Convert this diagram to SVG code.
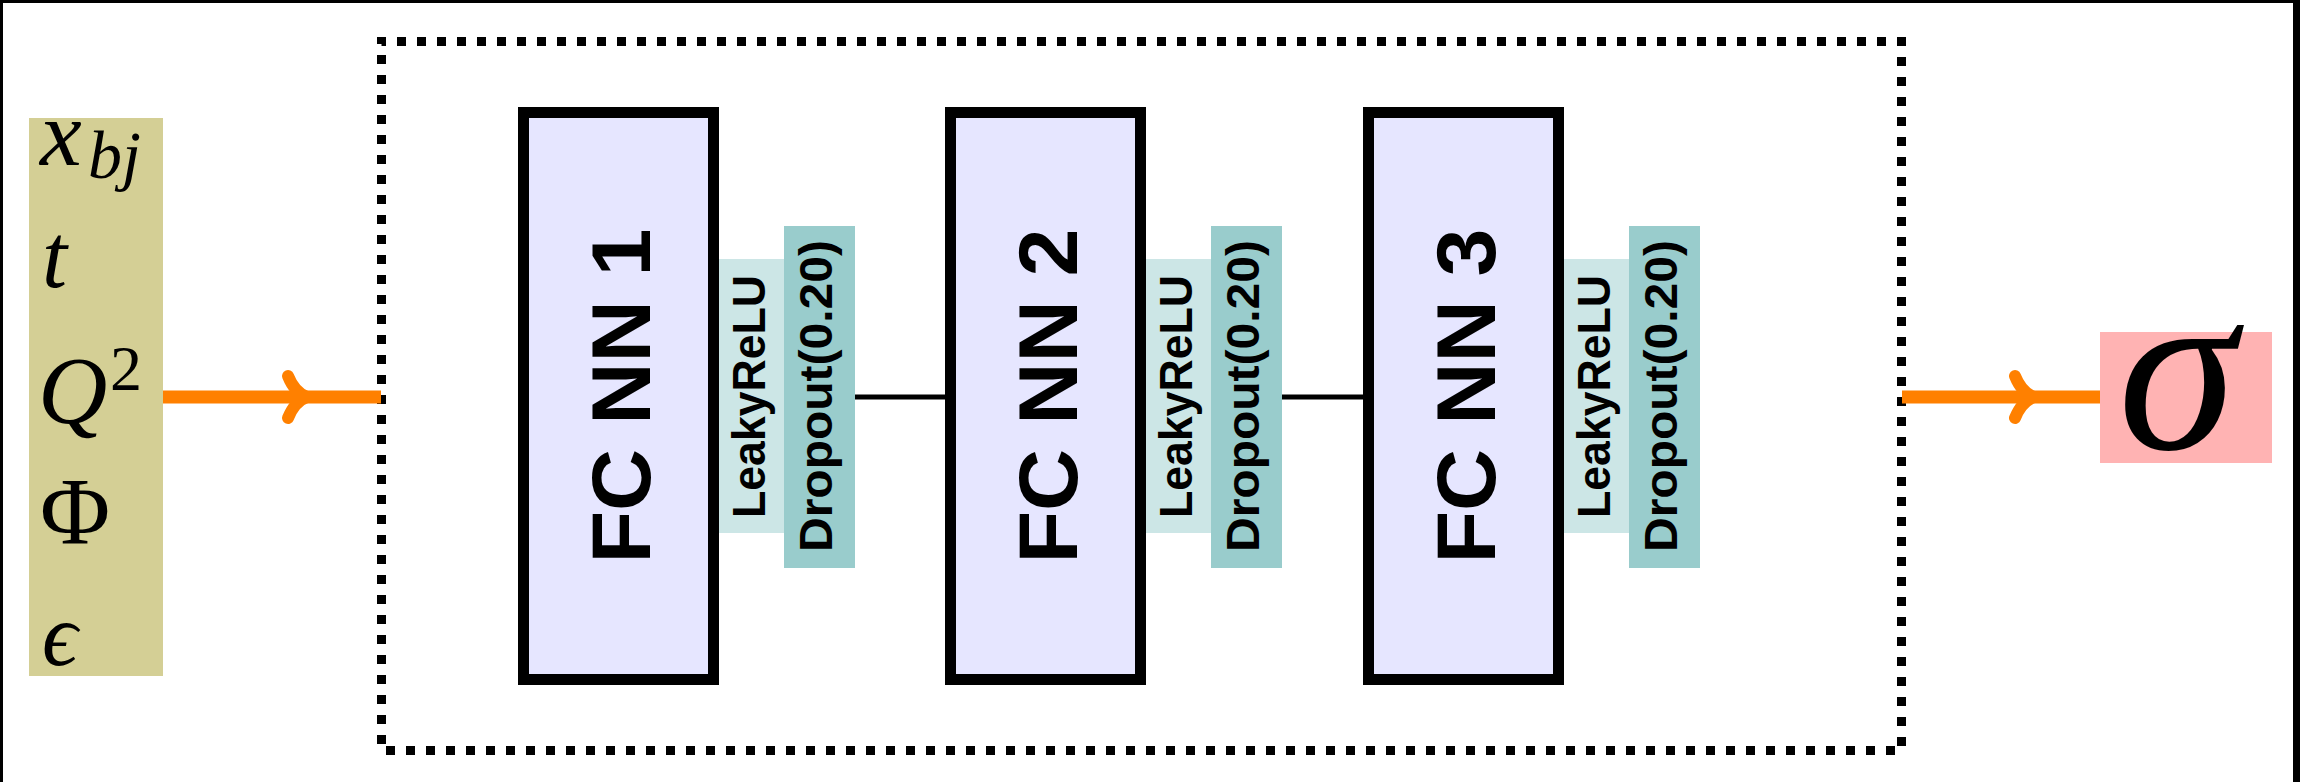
<svg xmlns="http://www.w3.org/2000/svg" width="2300" height="782" viewBox="0 0 2300 782">
  <style>
    .math { font-family: "Liberation Serif", "DejaVu Serif", serif; font-style: italic; fill: #000; }
    .up { font-style: normal; }
    .fc { font-family: "Liberation Sans", Arial, sans-serif; font-weight: bold; font-size: 84px; fill: #000; }
    .act { font-family: "Liberation Sans", Arial, sans-serif; font-weight: bold; font-size: 47px; fill: #000; }
    .nnbox { fill: #E6E6FF; stroke: #000; stroke-width: 11; }
    .leaky { fill: #CCE6E6; }
    .drop { fill: #99CCCC; }
    .orange { stroke: #FF8000; stroke-width: 13; fill: none; }
    .chev { stroke: #FF8000; stroke-width: 12; fill: none; stroke-linecap: round; stroke-linejoin: round; }
    .link { stroke: #000; stroke-width: 5; }
  </style>
  <rect x="0" y="0" width="2300" height="782" fill="#fff"/>
  <!-- frame border -->
  <rect x="0" y="0" width="2300" height="3" fill="#000"/>
  <rect x="0" y="0" width="3" height="782" fill="#000"/>
  <rect x="2293" y="0" width="7" height="782" fill="#000"/>

  <!-- dotted container -->
  <g id="container">
    <path d="M381.5,41.5 H1901.5 V750.5 H381.5 Z" fill="none" stroke="#000" stroke-width="9" stroke-dasharray="9 11" stroke-dashoffset="4.5"/>
  </g>

  <!-- inputs -->
  <g id="inputs">
    <rect x="29" y="118" width="134" height="558" fill="#D4CF95"/>
    <text class="math" x="40" y="165" font-size="94">x</text>
    <text class="math" x="88" y="178" font-size="68">bj</text>
    <text class="math" x="42" y="287" font-size="90">t</text>
    <text class="math" x="38" y="423" font-size="96">Q</text>
    <text class="math up" x="110" y="390" font-size="64">2</text>
    <text class="math up" x="40" y="544" font-size="96">Φ</text>
    <text class="math" x="42" y="665" font-size="88">ϵ</text>
  </g>

  <!-- layer 1 -->
  <g id="fc1">
    <rect class="nnbox" x="523.5" y="112.5" width="190" height="567"/>
    <text class="fc" transform="translate(650,396) rotate(-90)" text-anchor="middle" textLength="335" lengthAdjust="spacingAndGlyphs">FC NN 1</text>
  </g>
  <g id="act1">
    <rect class="leaky" x="719" y="259" width="65" height="274"/>
    <text class="act" transform="translate(765,396.5) rotate(-90)" text-anchor="middle" textLength="243" lengthAdjust="spacingAndGlyphs">LeakyReLU</text>
    <rect class="drop" x="784" y="226" width="71" height="342"/>
    <text class="act" transform="translate(832,396) rotate(-90)" text-anchor="middle" textLength="312" lengthAdjust="spacingAndGlyphs">Dropout(0.20)</text>
  </g>

  <!-- layer 2 -->
  <g id="fc2">
    <rect class="nnbox" x="950.5" y="112.5" width="190" height="567"/>
    <text class="fc" transform="translate(1077,396) rotate(-90)" text-anchor="middle" textLength="335" lengthAdjust="spacingAndGlyphs">FC NN 2</text>
  </g>
  <g id="act2">
    <rect class="leaky" x="1146" y="259" width="65" height="274"/>
    <text class="act" transform="translate(1192,396.5) rotate(-90)" text-anchor="middle" textLength="243" lengthAdjust="spacingAndGlyphs">LeakyReLU</text>
    <rect class="drop" x="1211" y="226" width="71" height="342"/>
    <text class="act" transform="translate(1259,396) rotate(-90)" text-anchor="middle" textLength="312" lengthAdjust="spacingAndGlyphs">Dropout(0.20)</text>
  </g>

  <!-- layer 3 -->
  <g id="fc3">
    <rect class="nnbox" x="1368.5" y="112.5" width="190" height="567"/>
    <text class="fc" transform="translate(1495,396) rotate(-90)" text-anchor="middle" textLength="335" lengthAdjust="spacingAndGlyphs">FC NN 3</text>
  </g>
  <g id="act3">
    <rect class="leaky" x="1564" y="259" width="65" height="274"/>
    <text class="act" transform="translate(1610,396.5) rotate(-90)" text-anchor="middle" textLength="243" lengthAdjust="spacingAndGlyphs">LeakyReLU</text>
    <rect class="drop" x="1629" y="226" width="71" height="342"/>
    <text class="act" transform="translate(1677,396) rotate(-90)" text-anchor="middle" textLength="312" lengthAdjust="spacingAndGlyphs">Dropout(0.20)</text>
  </g>

  <!-- output -->
  <g id="output">
    <rect x="2100" y="332" width="172" height="131" fill="#FFB3B3"/>
    <text class="math" x="2118" y="449" font-size="240">σ</text>
  </g>

  <!-- connectors -->
  <g id="connectors">
    <line class="orange" x1="163" y1="397" x2="381" y2="397"/>
    <path class="chev" d="M288,376 C292,386 299,394 307,397 C299,400 292,408 288,418"/>
    <line class="link" x1="855" y1="397" x2="945" y2="397"/>
    <line class="link" x1="1282" y1="397" x2="1363" y2="397"/>
    <line class="orange" x1="1902" y1="397" x2="2100" y2="397"/>
    <path class="chev" d="M2015,376 C2019,386 2026,394 2034,397 C2026,400 2019,408 2015,418"/>
  </g>
</svg>
